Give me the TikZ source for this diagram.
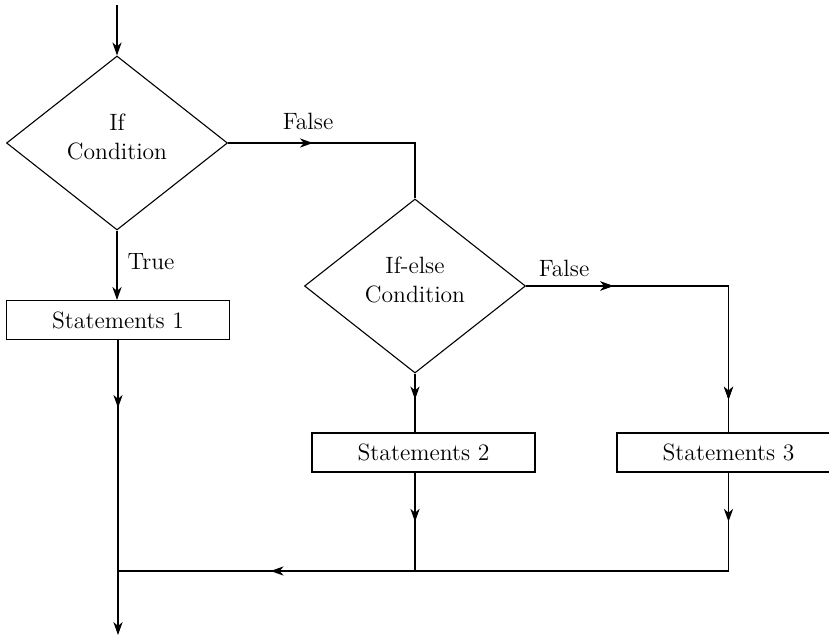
\documentclass[tikz,border=0pt]{standalone}
\usetikzlibrary{shapes}
\usetikzlibrary{arrows.meta}
\usetikzlibrary{decorations.markings}

\begin{document}
\begin{tikzpicture}[x=0.5pt,y=-0.5pt,line width=0.55pt,>={Stealth[length=6.5pt,width=4.6pt,inset=2pt]},
	every node/.style={font=\fontsize{11.8}{14.5}\selectfont}]
	 \tikzstyle{decision}=[diamond,draw,inner sep=0pt,minimum width=110.5pt,minimum height=87pt,align=center,text depth=6.5pt]
	 \tikzstyle{statement}=[rectangle,draw,inner sep=0pt,minimum width=111.5pt,minimum height=19.5pt]
	 \tikzstyle{label}=[inner sep=0pt]
	 \tikzstyle{mid arrow}=[postaction={decorate},decoration={markings,mark=at position #1 with {\arrow{>}}}]

	 \clip (0,0) rectangle (829,637);

	 \coordinate (start) at (117,5);
	 \node[decision] (d1) at (117,143) {If\\Condition};
	 \node[decision] (d2) at (415,286) {If-else\\Condition};
	 \node[statement] (s1) at (118,320) {Statements 1};
	\node[statement] (s2) at (423.5,452.5) {Statements 2};
	\node[statement] (s3) at (728.5,452.5) {Statements 3};

	 \node[label] (false1) at (308,121) {False};
	 \node[label] (false2) at (564,268) {False};
	 \node[label] (true1) at (151,262) {True};

	 \coordinate (j1) at (118,571);
	 \coordinate (j2) at (415,571);
	 \coordinate (j3) at (728.5,571);
	 \coordinate (stop) at (118,635);

	 \draw[->] (start) -- (d1.north);
	 \draw[->] (d1.south) -- (d1.south |- s1.north);
	 \draw[mid arrow=0.35] (d1.east) -| (d2.north);
	 \draw[mid arrow=0.44] (d2.south) -- (d2.south |- s2.north);
	 \draw[mid arrow=0.25,mid arrow=0.906] (d2.east) -| (s3.north);
	 \draw[->,mid arrow=0.23] (s1.south) -- (stop);
	 \draw[mid arrow=0.5] (d2.south |- s2.south) -- (j2);
	 \draw[mid arrow=0.5] (s3.south) -- (j3);
	 \draw[mid arrow=0.75] (j3) -- (j1);
\end{tikzpicture}
\end{document}
